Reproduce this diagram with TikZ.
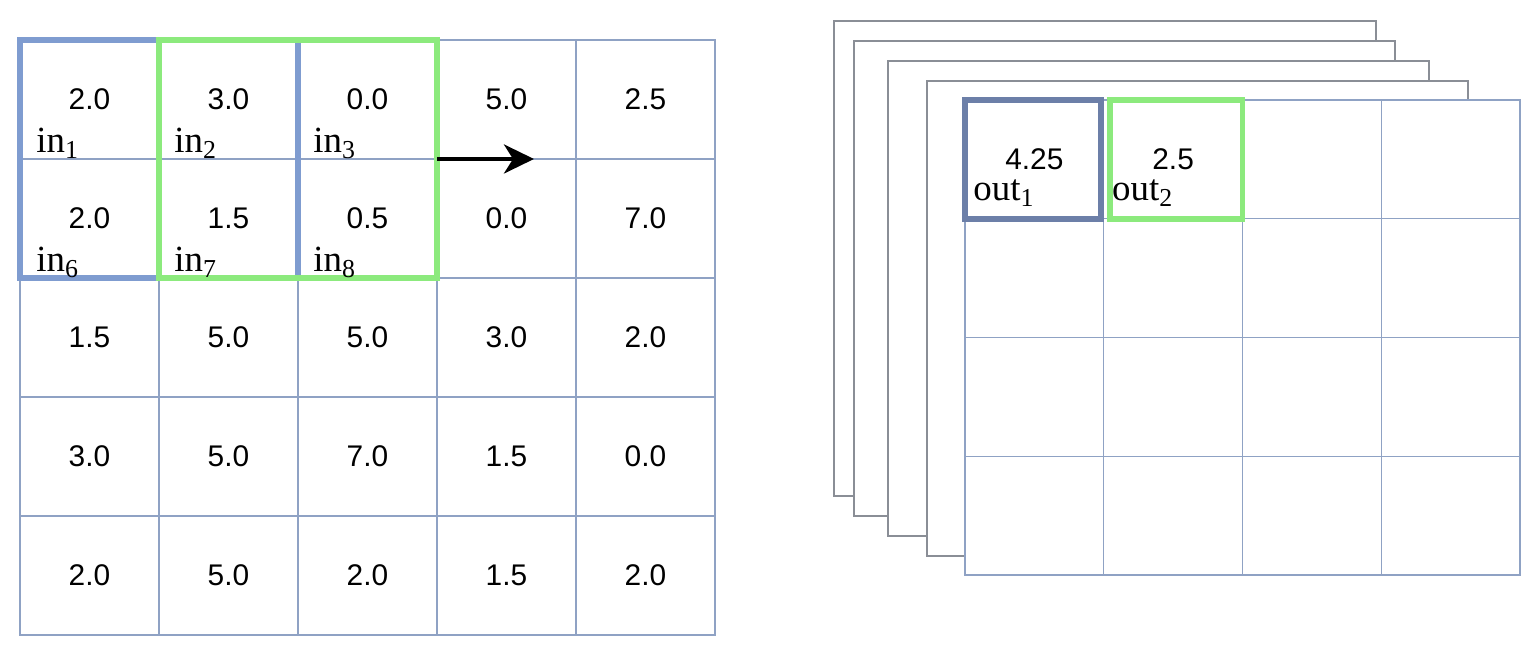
\documentclass[tikz,border=0pt]{standalone}
\usepackage{fontspec}
\setmainfont{Liberation Serif}
\setsansfont{Liberation Sans}
\usetikzlibrary{arrows.meta,positioning,calc}

\definecolor{gridblue}{HTML}{8FA2C4}
\definecolor{winblue}{HTML}{7F9CD0}
\definecolor{outblue}{HTML}{6C7FA8}
\definecolor{wingreen}{HTML}{8CEA7D}
\definecolor{sheetgray}{HTML}{8A8E96}

\tikzset{
  cell/.style={draw=gridblue, line width=0.7pt, fill=white, outer sep=0pt, inner sep=0pt,
    minimum width=2.78cm, minimum height=2.38cm, font=\sffamily\fontsize{17}{20}\selectfont},
  ocell/.style={cell, minimum width=2.775cm, minimum height=2.375cm},
  idx/.style={anchor=base west, inner sep=0pt, font=\fontsize{21}{24}\selectfont},
  sheet/.style={draw=sheetgray, fill=white, line width=0.9pt},
  win/.style={line width=3.3pt},
  slide/.style={line width=2.3pt, -{Stealth[length=0.6cm, width=0.58cm, inset=0.18cm]}},
}

\begin{document}
\begin{tikzpicture}
\useasboundingbox (0,0) rectangle (30.8,13.16);

% Input map
\foreach \row [count=\r] in {{2.0,3.0,0.0,5.0,2.5},{2.0,1.5,0.5,0.0,7.0},{1.5,5.0,5.0,3.0,2.0},
                             {3.0,5.0,7.0,1.5,0.0},{2.0,5.0,2.0,1.5,2.0}}
  \foreach \v [count=\c] in \row
    \node[cell] (in-\r-\c) at ({0.4+2.78*(\c-0.5)},{12.36-2.38*(\r-0.5)}) {\v};

\draw[win, winblue] (in-1-1.north west) rectangle (in-2-2.south east);
\draw[win, wingreen] (in-1-2.north west) rectangle (in-2-3.south east);

\foreach \r/\c/\k/\dx in {1/1/1/0.32,1/2/2/0.3,1/3/3/0.3,2/1/6/0.32,2/2/7/0.3,2/3/8/0.3}
  \node[idx] (in-lab-\k) at ($(in-\r-\c.south west)+(\dx,0.12)$) {in\textsubscript{\k}};

% stride
\coordinate (slide-end) at ($(in-1-3.south east)+(1.94,0)$);
\draw[slide] (in-1-3.south east) -- (slide-end);

% Output maps (stack)
\draw[sheet] (16.68,12.74) rectangle (27.52,3.24);
\draw[sheet] (17.08,12.34) rectangle (27.90,2.84);
\draw[sheet] (17.76,11.94) rectangle (28.58,2.44);
\draw[sheet] (18.54,11.54) rectangle (29.36,2.04);

\foreach \r in {1,...,4}
  \foreach \c in {1,...,4}
    \node[ocell] (out-\r-\c) at ({19.3+2.775*(\c-0.5)},{11.16-2.375*(\r-0.5)})
      {\ifnum\r=1 \ifcase\c\or 4.25\or 2.5\fi\fi};

\draw[win, outblue] (out-1-1.north west) rectangle ($(out-1-1.south east)+(-0.06,0)$);
\draw[win, wingreen] ($(out-1-2.north west)+(0.12,0)$) rectangle (out-1-2.south east);

\node[idx] (out-lab-1) at ($(out-1-1.south west)+(0.16,0.36)$) {out\textsubscript{1}};
\node[idx] (out-lab-2) at ($(out-1-2.south west)+(0.16,0.36)$) {out\textsubscript{2}};
\end{tikzpicture}
\end{document}
